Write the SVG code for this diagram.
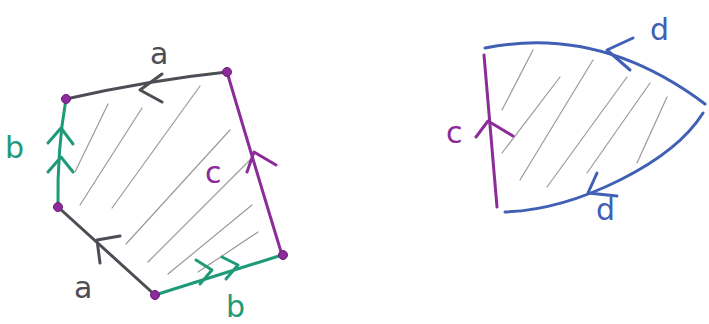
<svg xmlns="http://www.w3.org/2000/svg" width="709" height="324" viewBox="0 0 709 324">
<style>
.e{fill:none;stroke-width:3;stroke-linecap:round;stroke-linejoin:round}
.g{stroke:#4d4d55}.gr{stroke:#1f9a78}.p{stroke:#8b2c98}.bl{stroke:#4060b5}
.h{fill:none;stroke:#9a9a9a;stroke-width:1.2;stroke-linecap:round}
.v{fill:#8b2c98;stroke:#6a1f78;stroke-width:1}
.t{font-family:"DejaVu Sans",sans-serif;font-size:30px}
</style>
<rect width="709" height="324" fill="#fff"/>
<g id="left-figure">
<g id="hatch-left">
<path class="h" d="M75 172L108 104M80 205L142 108M112 208L200 86M126 244L230 130M148 262L250 160M168 274L252 205M198 272L258 232"/>
</g>
<g id="connectors-left">
<path class="e g" d="M227 72Q150 80 66 99"/>
<path class="e g" d="M162 74L140 90L162 102"/>
<path class="e gr" d="M66 99Q57 150 58 207"/>
<path class="e gr" d="M48 143L61 128L73 144M48 172L61 157L73 172"/>
<path class="e g" d="M58 207L155 295"/>
<path class="e g" d="M120 236L97 240L100 263"/>
<path class="e gr" d="M155 295L282 255"/>
<path class="e gr" d="M196 260L212 270L200 284M222 257L238 265L226 279"/>
<path class="e p" d="M282 255Q262 190 227 72"/>
<path class="e p" d="M247 172L254 152L276 165"/>
</g>
<circle class="v" cx="227" cy="72" r="4.5"/>
<circle class="v" cx="66" cy="99" r="4.5"/>
<circle class="v" cx="58" cy="207" r="4.5"/>
<circle class="v" cx="155" cy="295" r="4.5"/>
<circle class="v" cx="283" cy="255" r="4.5"/>
<text class="t" x="150" y="64" fill="#4d4d55">a</text>
<text class="t" x="5" y="158" fill="#1f9a78">b</text>
<text class="t" x="74" y="298" fill="#4d4d55">a</text>
<text class="t" x="226" y="317" font-size="28" fill="#1f9a78">b</text>
<text class="t" x="205" y="183" fill="#8b2c98">c</text>
</g>
<g id="right-figure">
<g id="hatch-right">
<path class="h" d="M533 50L502 110M560 77L502 153M593 60L520 180M627 77L547 187M650 83L587 173M667 97L637 163"/>
</g>
<g id="connectors-right">
<path class="e p" d="M484 55L497 207"/>
<path class="e p" d="M476 137L488 121L513 136"/>
<path class="e bl" d="M485 48Q600 25 705 104"/>
<path class="e bl" d="M633 38L607 50L630 70"/>
<path class="e bl" d="M505 212Q560 210 620 180Q680 150 703 113"/>
<path class="e bl" d="M597 173L588 193L617 196"/>
</g>
<text class="t" x="446" y="143" fill="#8b2c98">c</text>
<text class="t" x="650" y="40" fill="#4060b5">d</text>
<text class="t" x="596" y="220" fill="#4060b5">d</text>
</g>
</svg>
